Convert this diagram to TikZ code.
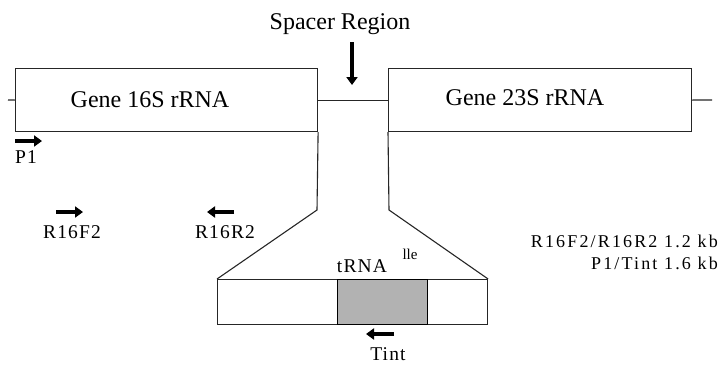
\documentclass[tikz,border=0pt]{standalone}
\usepackage{fontspec}
\setmainfont{Liberation Serif}
\usetikzlibrary{arrows.meta}
\begin{document}
\begin{tikzpicture}[x=1pt,y=-1pt,
  ln/.style={line width=1.1pt,black!85},
  genebox/.style={draw,line width=1.1pt,black!85},
  primer/.style={line width=3.6pt,-{Triangle[length=8pt,width=11pt]}},
  lbl/.style={font=\fontsize{19.5}{20}\selectfont\addfontfeature{LetterSpace=6},inner sep=0pt},
  szl/.style={font=\fontsize{18}{18}\selectfont\addfontfeature{LetterSpace=12},inner sep=0pt,anchor=east},
  big/.style={font=\fontsize{24}{24}\selectfont,inner sep=0pt}]
\useasboundingbox (0,0) rectangle (723,367);
% backbone
\coordinate (L0) at (8,100);
\coordinate (R0) at (712,100);
\node[genebox,minimum width=302pt,minimum height=63pt,anchor=north west,inner sep=0pt] (g16) at (15,68) {};
\node[genebox,minimum width=303pt,minimum height=63pt,anchor=north west,inner sep=0pt] (g23) at (388,68) {};
\node[big] (t16) at (150,100) {Gene 16S rRNA};
\node[big] (t23) at (525,98) {Gene 23S rRNA};
\draw[ln] (L0) -- (g16.west);
\draw[ln] (g23.east) -- (R0);
\draw[ln] (g16.east) -- (g23.west);
% spacer label
\node[big] (sp) at (340,24) {Spacer Region};
\coordinate (spA) at (352,42);
\coordinate (spB) at (352,85);
\draw[primer] (spA) -- (spB);
% expansion
\node[genebox,minimum width=270pt,minimum height=45pt,anchor=north west,inner sep=0pt] (sb) at (217,279) {};
\node[draw,line width=1.1pt,fill=black!30,minimum width=90pt,minimum height=45pt,anchor=north west,inner sep=0pt] (trna) at (337,279) {};
\coordinate (e1) at (317,210);
\coordinate (e2) at (389,210);
\draw[ln] (g16.south east) -- (e1) -- (sb.north west);
\draw[ln] (g23.south west) -- (e2) -- (sb.north east);
\node[lbl] (tr) at (362,266) {tRNA};
\node[font=\fontsize{15}{15}\selectfont,inner sep=0pt] (ile) at (410,254) {lle};
% primers
\coordinate (p1a) at (15,141); \coordinate (p1b) at (42,141);
\draw[primer] (p1a) -- (p1b);
\node[lbl,anchor=west] (p1) at (15,157) {P1};
\coordinate (f2a) at (56,212); \coordinate (f2b) at (83,212);
\draw[primer] (f2a) -- (f2b);
\node[lbl] (f2) at (72,232) {R16F2};
\coordinate (r2a) at (234,212); \coordinate (r2b) at (207,212);
\draw[primer] (r2a) -- (r2b);
\node[lbl] (r2) at (225,232) {R16R2};
\coordinate (tia) at (394,334); \coordinate (tib) at (366,334);
\draw[primer] (tia) -- (tib);
\node[lbl] (ti) at (388,354) {Tint};
% sizes
\node[szl] (s1) at (718,241) {R16F2/R16R2 1.2 kb};
\node[szl] (s2) at (718,263) {P1/Tint 1.6 kb};
\end{tikzpicture}
\end{document}
